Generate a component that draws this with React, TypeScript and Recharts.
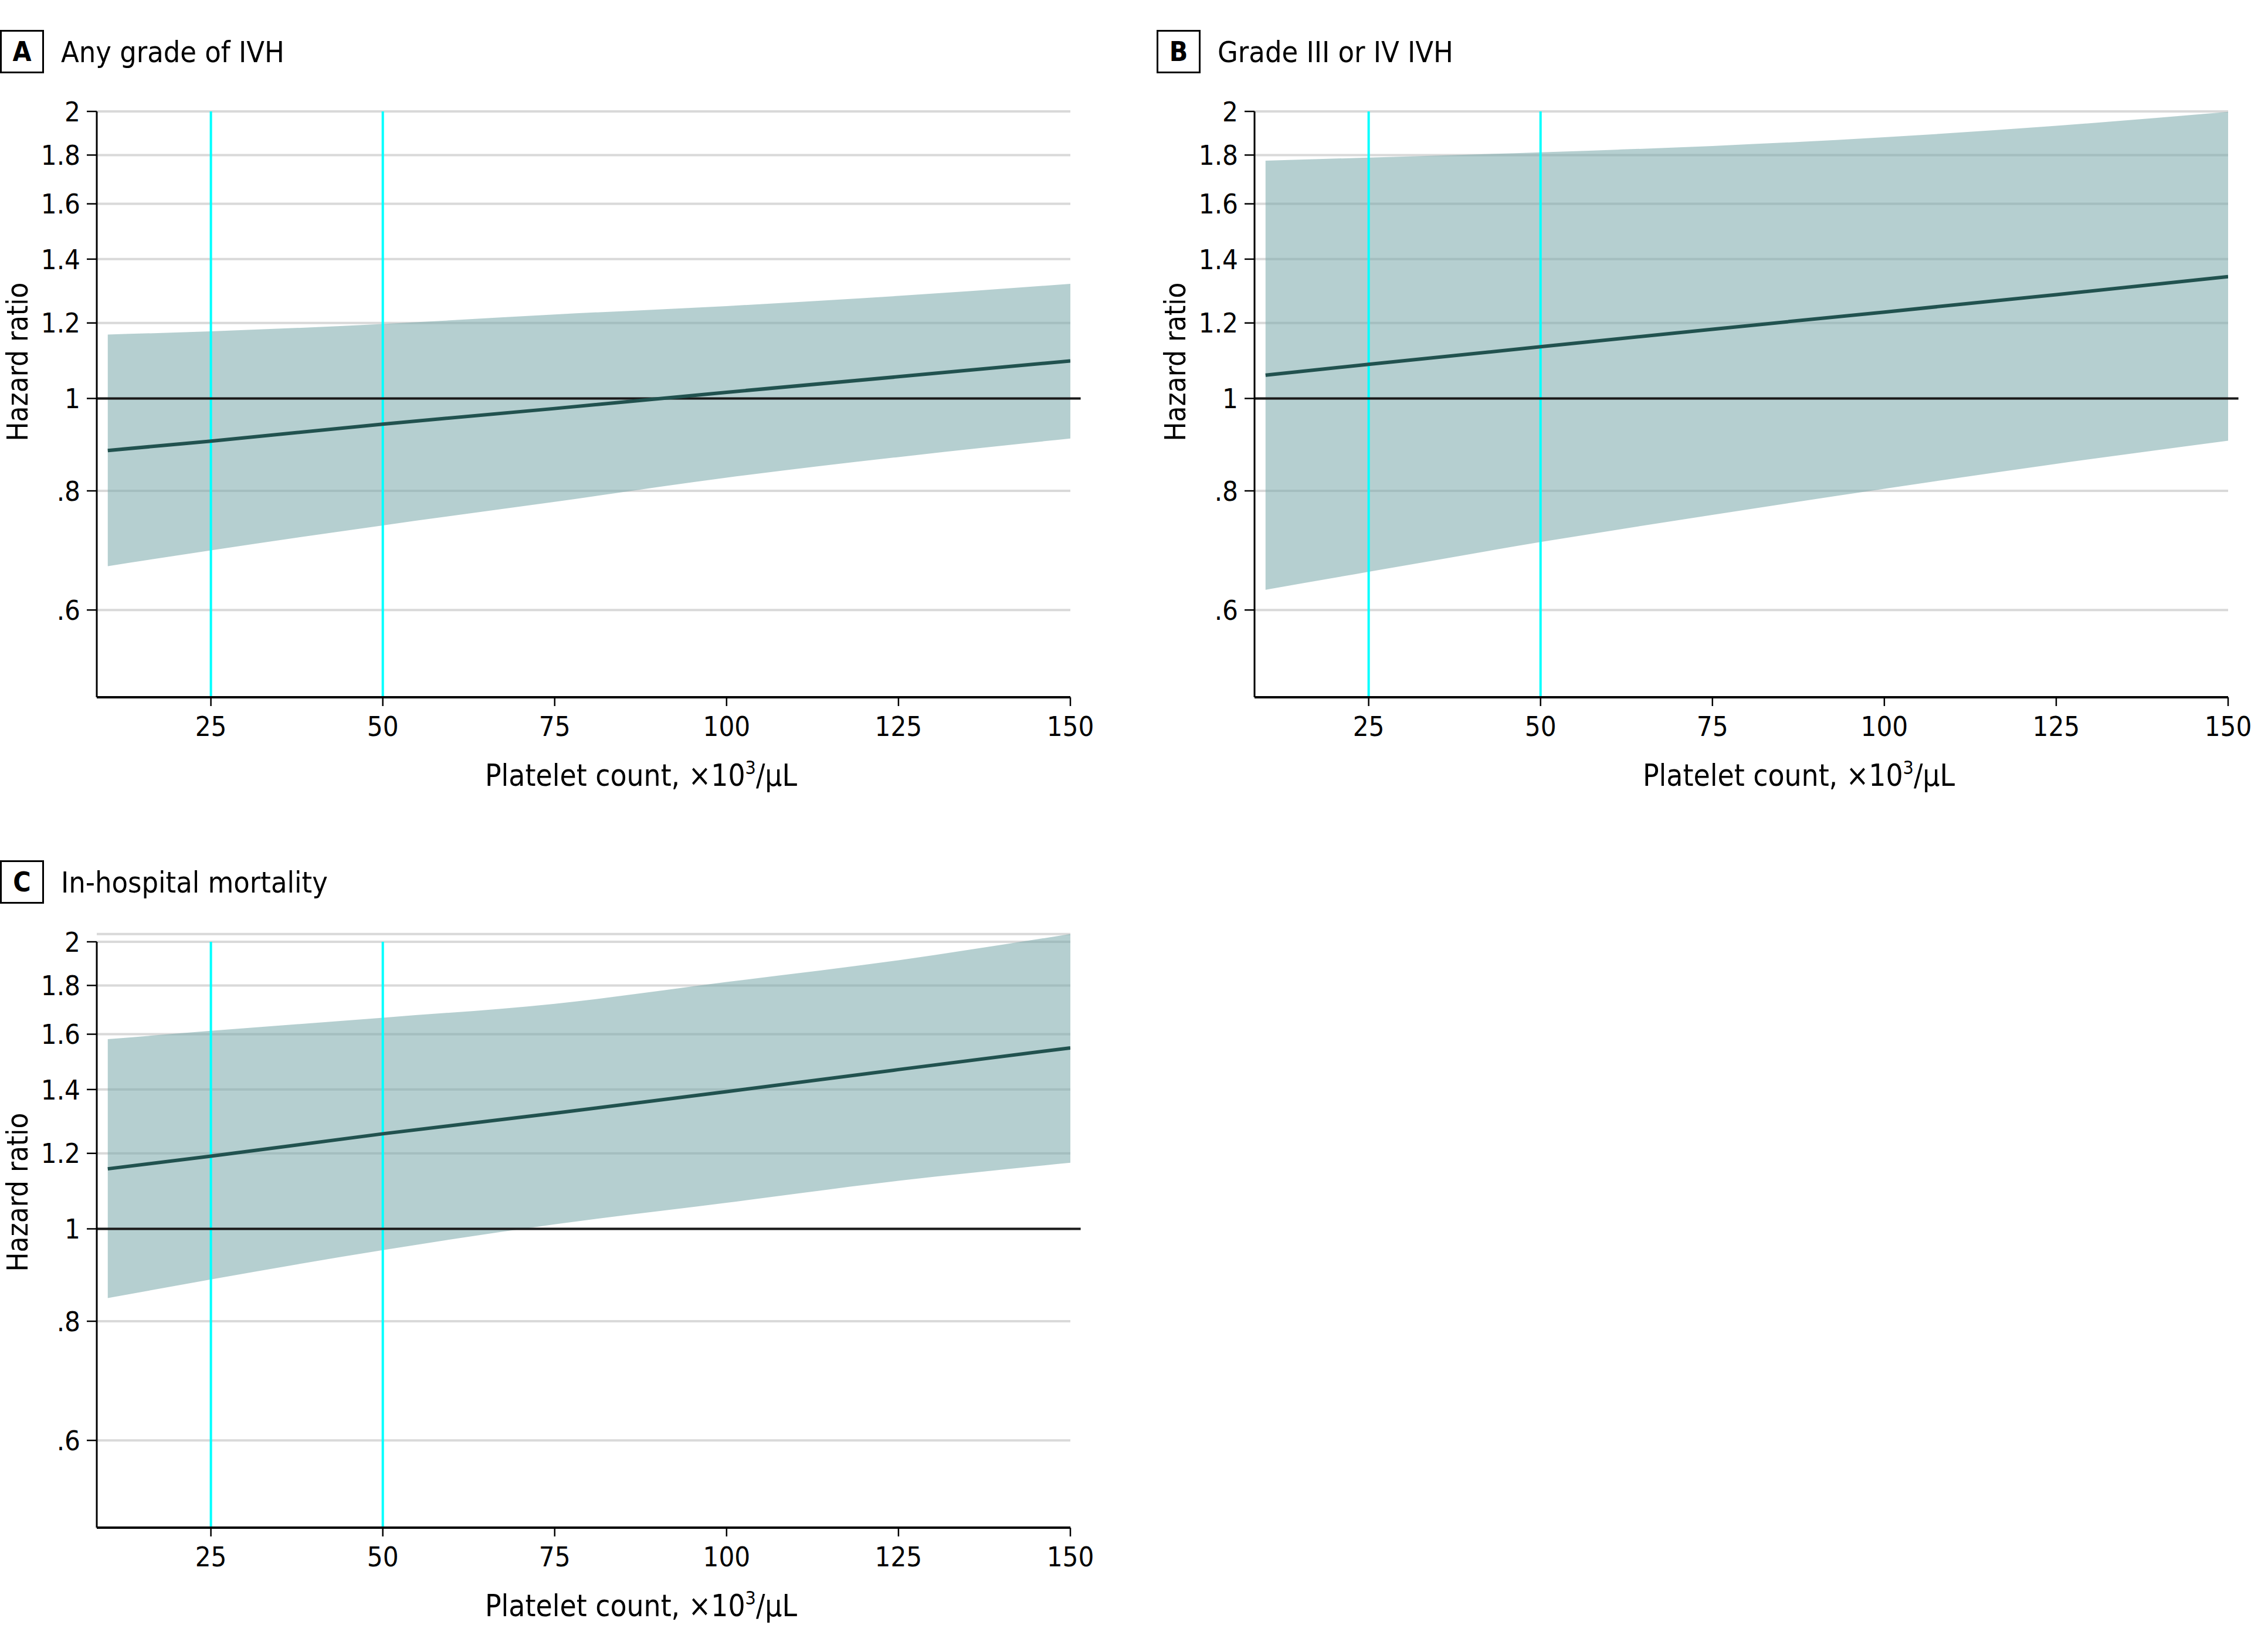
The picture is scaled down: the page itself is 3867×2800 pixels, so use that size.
import React from "react";
import {
  ComposedChart,
  Area,
  Line,
  XAxis,
  YAxis,
  CartesianGrid,
  ReferenceLine,
} from "recharts";

const FONT = "'Liberation Sans Narrow', 'DejaVu Sans Condensed', sans-serif";

// platelet count, x10^3/uL
const platelets = [10, 25, 50, 75, 100, 125, 150];
const xTicks = [25, 50, 75, 100, 125, 150];
const yTicks = [0.6, 0.8, 1, 1.2, 1.4, 1.6, 1.8, 2];
const yTickLabels = [".6", ".8", "1", "1.2", "1.4", "1.6", "1.8", "2"];
const thresholds = [25, 50];

// A: any grade of IVH
const anyIvhHr = [0.882, 0.902, 0.94, 0.976, 1.015, 1.054, 1.095];
const anyIvhLo = [0.667, 0.693, 0.736, 0.779, 0.826, 0.868, 0.908];
const anyIvhHi = [1.167, 1.176, 1.197, 1.225, 1.25, 1.281, 1.319];

// B: grade III or IV IVH
const severeIvhHr = [1.058, 1.086, 1.133, 1.182, 1.232, 1.285, 1.342];
const severeIvhLo = [0.63, 0.658, 0.707, 0.755, 0.804, 0.854, 0.903];
const severeIvhHi = [1.776, 1.789, 1.812, 1.84, 1.879, 1.932, 1.998];

// C: in-hospital mortality
const mortalityHr = [1.156, 1.192, 1.258, 1.322, 1.393, 1.469, 1.548];
const mortalityLo = [0.846, 0.885, 0.95, 1.011, 1.065, 1.123, 1.173];
const mortalityHi = [1.581, 1.613, 1.665, 1.722, 1.815, 1.913, 2.038];

const X_MIN = 8.4;
const X_MAX = 150;
const REF_END = 151.5;
const Y_MIN = 0.486;
const Y_MAX = 2;

const CHART_W = 1900;
const CHART_H = 1300;
const AXIS_W = 165;
const PLOT_TOP = 190;
const PLOT_BOTTOM = 1189;
const PLOT_RIGHT = 1825;

const BAND = "#78a8aa";
const LINE = "#21524f";

type PanelProps = {
  letter: string;
  title: string;
  left: number;
  top: number;
  hr: number[];
  lo: number[];
  hi: number[];
};

const panels: PanelProps[] = [
  { letter: "A", title: "Any grade of IVH", left: 0, top: 0, hr: anyIvhHr, lo: anyIvhLo, hi: anyIvhHi },
  { letter: "B", title: "Grade III or IV IVH", left: 1974, top: 0, hr: severeIvhHr, lo: severeIvhLo, hi: severeIvhHi },
  { letter: "C", title: "In-hospital mortality", left: 0, top: 1416, hr: mortalityHr, lo: mortalityLo, hi: mortalityHi },
];

const Panel = ({ letter, title, left, top, hr, lo, hi }: PanelProps) => {
  const data = platelets.map((x, i) => ({ x, hr: hr[i], band: [lo[i], hi[i]] }));
  const maxHi = Math.max(...hi);
  const yTop = Math.max(Y_MAX, maxHi);
  // keep y=2 at the same pixel when the band pokes above it
  const extra =
    ((PLOT_BOTTOM - PLOT_TOP) * Math.log(yTop / Y_MAX)) / Math.log(Y_MAX / Y_MIN);
  const plotLeft = AXIS_W;
  const plotCenter = (plotLeft + PLOT_RIGHT) / 2;
  const shift = left > 0 ? 2 : 0;

  return (
    <div style={{ position: "absolute", left, top, width: CHART_W, height: CHART_H }}>
      <ComposedChart
        width={CHART_W}
        height={CHART_H}
        data={data}
        margin={{ top: PLOT_TOP - extra, right: CHART_W - PLOT_RIGHT, bottom: 0, left: 0 }}
      >
        <CartesianGrid horizontal vertical={false} stroke="#d9d9d9" strokeWidth={4} />
        <XAxis
          dataKey="x"
          type="number"
          domain={[X_MIN, X_MAX]}
          allowDataOverflow
          ticks={xTicks}
          height={CHART_H - PLOT_BOTTOM}
          tickSize={15}
          tickMargin={18}
          axisLine={{ stroke: "#000", strokeWidth: 4 }}
          tickLine={{ stroke: "#000", strokeWidth: 2.5 }}
          tick={{ fontSize: 47, fill: "#000", fontFamily: FONT }}
        />
        <YAxis
          type="number"
          scale="log"
          domain={[Y_MIN, yTop]}
          allowDataOverflow
          ticks={yTicks}
          interval={0}
          width={AXIS_W}
          tickSize={17}
          tickMargin={11}
          axisLine={false}
          tickLine={{ stroke: "#000", strokeWidth: 2.5 }}
          tickFormatter={(v: number) => yTickLabels[yTicks.indexOf(v)] ?? String(v)}
          tick={{ fontSize: 47, fill: "#000", fontFamily: FONT }}
        />
        <Area
          dataKey="band"
          type="monotone"
          stroke="none"
          fill={BAND}
          fillOpacity={0.55}
          isAnimationActive={false}
          activeDot={false}
        />
        {thresholds.map((t) => (
          <ReferenceLine
            key={t}
            segment={[
              { x: t, y: Y_MIN },
              { x: t, y: Y_MAX },
            ]}
            stroke="#00ffff"
            strokeWidth={4}
            ifOverflow="visible"
          />
        ))}
        <ReferenceLine
          segment={[
            { x: X_MIN, y: 1 },
            { x: REF_END, y: 1 },
          ]}
          stroke="#1a1a1a"
          strokeWidth={4}
          ifOverflow="visible"
        />
        <Line
          dataKey="hr"
          type="linear"
          stroke={LINE}
          strokeWidth={6}
          dot={false}
          activeDot={false}
          isAnimationActive={false}
        />
        <ReferenceLine
          segment={[
            { x: X_MIN, y: Y_MIN },
            { x: X_MIN, y: Y_MAX },
          ]}
          stroke="#000"
          strokeWidth={3}
          ifOverflow="visible"
        />
      </ComposedChart>
      <svg
        width={CHART_W}
        height={CHART_H}
        style={{ position: "absolute", left: 0, top: 0, pointerEvents: "none", overflow: "visible" }}
        fontFamily={FONT}
      >
        <rect x={1.5 - shift} y={52.5} width={72} height={71} fill="none" stroke="#000" strokeWidth={3} />
        <text x={37.5 - shift} y={104} textAnchor="middle" fontSize={46} fontWeight="bold" fill="#000">
          {letter}
        </text>
        <text x={104 - shift} y={106} fontSize={50} fill="#000">
          {title}
        </text>
        <text
          x={plotLeft - 118}
          y={617}
          transform={`rotate(-90, ${plotLeft - 118}, 617)`}
          textAnchor="middle"
          fontSize={49}
          fill="#000"
        >
          Hazard ratio
        </text>
        <text x={plotCenter + 98} y={1340} textAnchor="middle" fontSize={51} fill="#000">
          <tspan>Platelet count, ×10</tspan>
          <tspan dy={-20} fontSize={32}>3</tspan>
          <tspan dy={20}>/μL</tspan>
        </text>
      </svg>
    </div>
  );
};

export default function App() {
  return (
    <div
      style={{
        position: "absolute",
        left: 0,
        top: 0,
        width: 3867,
        height: 2800,
        background: "#fff",
      }}
    >
      {panels.map((p) => (
        <Panel key={p.letter} {...p} />
      ))}
    </div>
  );
}
